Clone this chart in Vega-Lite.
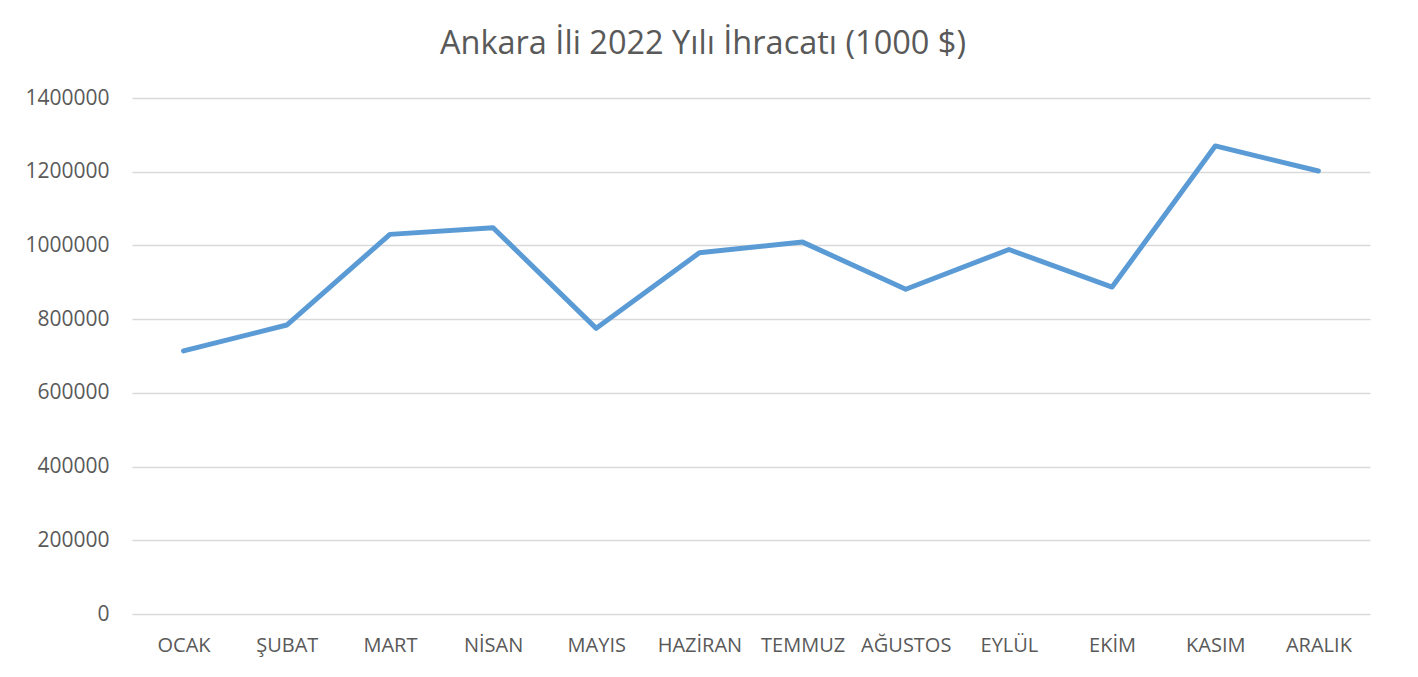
{
  "$schema": "https://vega.github.io/schema/vega-lite/v6.json",
  "width": 1238,
  "height": 516,
  "autosize": "none",
  "padding": {"left": 132, "top": 98, "right": 48, "bottom": 63},
  "background": "white",
  "title": {
    "text": "Ankara İli 2022 Yılı İhracatı (1000 $)",
    "font": "Open Sans",
    "fontSize": 32.5,
    "fontWeight": "normal",
    "color": "#595959",
    "anchor": "middle",
    "dx": -48,
    "offset": 27
  },
  "data": {
    "values": [
      {"ay": "OCAK", "ihracat": 714000},
      {"ay": "ŞUBAT", "ihracat": 784000},
      {"ay": "MART", "ihracat": 1030000},
      {"ay": "NİSAN", "ihracat": 1048000},
      {"ay": "MAYIS", "ihracat": 775000},
      {"ay": "HAZİRAN", "ihracat": 980000},
      {"ay": "TEMMUZ", "ihracat": 1009000},
      {"ay": "AĞUSTOS", "ihracat": 881000},
      {"ay": "EYLÜL", "ihracat": 989000},
      {"ay": "EKİM", "ihracat": 887000},
      {"ay": "KASIM", "ihracat": 1270000},
      {"ay": "ARALIK", "ihracat": 1202000}
    ]
  },
  "mark": {"type": "line", "color": "#5b9bd5", "strokeWidth": 5, "strokeCap": "round", "strokeJoin": "round"},
  "encoding": {
    "x": {
      "field": "ay",
      "type": "ordinal",
      "sort": null,
      "scale": {"padding": 0.5},
      "axis": {
        "title": null,
        "labelAngle": 0,
        "domain": false,
        "ticks": false,
        "tickSize": 0,
        "grid": false,
        "labelFont": "Open Sans",
        "labelFontSize": 20,
        "labelColor": "#595959",
        "labelPadding": 21
      }
    },
    "y": {
      "field": "ihracat",
      "type": "quantitative",
      "scale": {"domain": [0, 1400000], "nice": false},
      "axis": {
        "title": null,
        "values": [0, 200000, 400000, 600000, 800000, 1000000, 1200000, 1400000],
        "format": "d",
        "domain": false,
        "ticks": false,
        "tickSize": 0,
        "grid": true,
        "gridColor": "#d9d9d9",
        "gridWidth": 1.3,
        "labelFont": "Open Sans",
        "labelFontSize": 21,
        "labelColor": "#595959",
        "labelPadding": 23
      }
    }
  },
  "config": {"view": {"stroke": null}}
}
